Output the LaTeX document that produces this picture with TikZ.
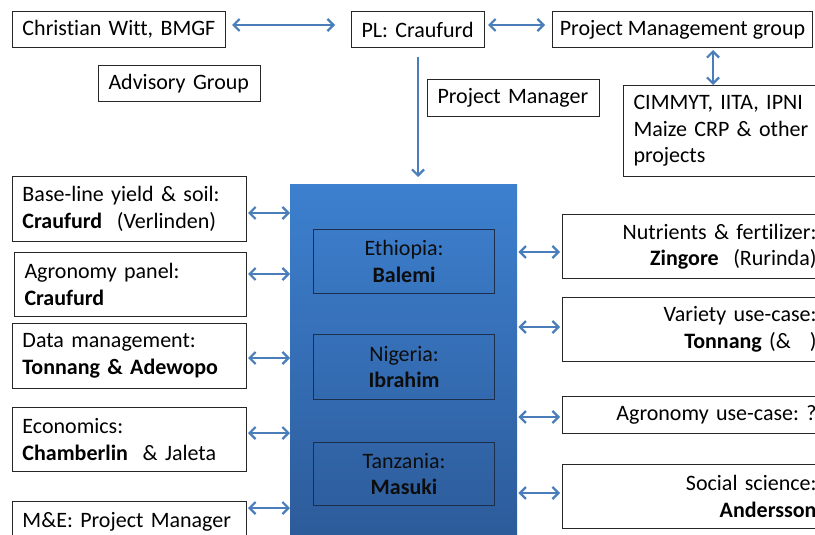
\documentclass[tikz,border=0pt]{standalone}
\usepackage{fontspec}
\setmainfont{Carlito}[Ligatures={NoCommon}]
\usetikzlibrary{arrows.meta,calc}
\definecolor{linkblue}{HTML}{4A7EBB}
\definecolor{paneltop}{HTML}{3D80CF}
\definecolor{panelbot}{HTML}{2C5A98}
\definecolor{innerline}{HTML}{1B2E4C}
\frenchspacing
\begin{document}
\begin{tikzpicture}[x=1pt,y=-1pt,
  txt/.style={font=\fontsize{22}{26.5}\selectfont},
  box/.style={txt, draw=black!85, line width=1pt, fill=white, anchor=north west,
    inner xsep=10pt, inner ysep=0pt, align=left},
  rbox/.style={box, align=right},
  cbox/.style={txt, draw=innerline, line width=1.1pt, anchor=north west,
    inner xsep=0pt, inner ysep=0pt, align=center, text=black!95},
  tip/.tip={Straight Barb[length=6pt,width=12pt]},
  link/.style={draw=linkblue, line width=2.2pt, tip-tip},
  golink/.style={draw=linkblue, line width=2.2pt, -tip}]
\path[use as bounding box, clip] (0,0) rectangle (815,535);

% top row
\node[box, text width=193pt, minimum height=36pt] (cw) at (12,11) {Christian Witt, BMGF};
\node[box, text width=142pt, minimum height=36pt] (adv) at (98,65) {Advisory Group};
\node[box, text width=113pt, minimum height=36pt] (pl) at (351,11) {PL: Craufurd};
\node[box, align=center, inner xsep=5pt, minimum width=260pt, minimum height=36pt] (pmg) at (552,11)
  {Project Management group};
\node[box, text width=152pt, minimum height=37pt] (pm) at (427,79) {Project Manager};
\node[box, text width=200pt, minimum height=91pt] (cim) at (623,85)
  {CIMMYT, IITA, IPNI\\ Maize CRP \& other\\ projects};

% central country panel
\node[anchor=north west, minimum width=227pt, minimum height=365pt, inner sep=0pt,
  top color=paneltop, bottom color=panelbot] (big) at (290,184) {};
\node[cbox, minimum width=181pt, minimum height=64pt] (eth) at (313,229) {Ethiopia:\\ \textbf{Balemi}};
\node[cbox, minimum width=181pt, minimum height=65pt] (nga) at (313,334) {Nigeria:\\ \textbf{Ibrahim}};
\node[cbox, minimum width=181pt, minimum height=63pt] (tza) at (313,442) {Tanzania:\\ \textbf{Masuki}};

% left column
\node[box, text width=214pt, minimum height=65pt] (bl) at (12,176)
  {Base-line yield \& soil:\\ \textbf{Craufurd}\ \ (Verlinden)};
\node[box, text width=212pt, minimum height=64pt] (agp) at (14,252)
  {Agronomy panel:\\ \textbf{Craufurd}};
\node[box, text width=214pt, minimum height=65pt] (dm) at (12,323)
  {Data management:\\ \textbf{Tonnang \& Adewopo}};
\node[box, text width=214pt, minimum height=64pt] (eco) at (12,407)
  {Economics:\\ \textbf{Chamberlin}\ \ \& Jaleta};
\node[box, text width=214pt, text height=26pt, text depth=40pt] (me) at (12,501)
  {M\&E: Project Manager};

% right column
\node[rbox, text width=244pt, minimum height=64pt] (nut) at (562,214)
  {Nutrients \& fertilizer:\\ \textbf{Zingore}\ \ (Rurinda)};
\node[rbox, text width=244pt, minimum height=64pt] (var) at (562,297)
  {Variety use-case:\\ \textbf{Tonnang} (\&\hspace{19pt})};
\node[rbox, text width=244pt, minimum height=37pt] (agu) at (562,396)
  {Agronomy use-case: ?};
\node[rbox, text width=244pt, minimum height=64pt] (soc) at (562,464)
  {Social science:\\ \textbf{Andersson}};

% connectors, top
\draw[link] ($(cw.east |- 0,25)+(6,0)$) -- ($(pl.west |- 0,25)+(-16,0)$);
\draw[link] ($(pl.east |- 0,25)+(3,0)$) -- ($(pmg.west |- 0,25)+(-7,0)$);
\draw[link] ($(pmg.south -| 713,0)+(0,2)$) -- (cim.north -| 713,0);
\draw[golink] ($(pl.south)+(0,9)$) -- ($(pl.south |- big.north)+(0,-7)$);

% connectors, left
\foreach \n/\yy in {bl/213, agp/274, dm/358, eco/433, me/508}
  \draw[link] ($(\n.east |- 0,\yy)+(1,0)$) -- (big.west |- 0,\yy);

% connectors, right
\foreach \n/\yy in {nut/252, var/327, agu/417, soc/493}
  \draw[link] ($(big.east |- 0,\yy)+(1,0)$) -- ($(\n.west |- 0,\yy)+(-2,0)$);
\end{tikzpicture}
\end{document}
